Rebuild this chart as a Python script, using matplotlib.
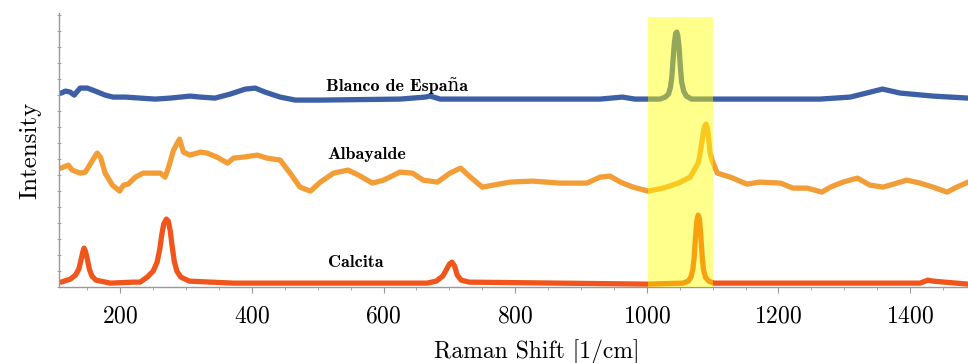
import matplotlib
matplotlib.use("Agg")
import matplotlib.pyplot as plt
from matplotlib.ticker import MultipleLocator, NullFormatter

# Raman spectra (shift in 1/cm, intensity in arbitrary units)
blanco_x = [110, 117, 124, 130, 139, 150, 162, 177, 189, 208, 230, 253, 276, 291,
            306, 322, 344, 367, 390, 405, 420, 443, 466, 504, 625, 663, 671, 686,
            929, 963, 982, 1020, 1028, 1033, 1036, 1038, 1040, 1042, 1044, 1045.5,
            1047, 1049, 1051, 1053, 1056, 1060, 1068, 1263, 1309, 1358, 1385, 1435,
            1488]
blanco_y = [194, 196, 195, 192, 199, 199, 196, 192, 190, 190, 189, 188, 189, 190,
            191, 190, 189, 193, 198, 199, 195, 190, 187, 187, 188, 190, 191, 188,
            188, 190, 188, 188, 190, 193, 200, 210, 228, 245, 254, 255,
            252, 240, 220, 205, 196, 191, 188, 188, 190, 198, 194, 191,
            189]

albayalde_x = [110, 121, 127, 139, 147, 158, 165, 170, 177, 188, 199, 205, 212, 223,
               235, 250, 261, 268, 273, 281, 290, 296, 306, 322, 332, 347, 363, 372,
               387, 408, 423, 443, 458, 473, 489, 504, 524, 546, 562, 583, 600, 625,
               644, 660, 682, 701, 717, 732, 750, 767, 792, 827, 868, 909, 929, 944,
               960, 979, 1002, 1025, 1048, 1066, 1078, 1080, 1083, 1086, 1088, 1090,
               1092, 1094, 1096, 1099, 1107, 1127, 1152, 1172, 1203, 1222, 1244, 1266,
               1279, 1298, 1320, 1339, 1359, 1380, 1395, 1415, 1435, 1456, 1471, 1488]
albayalde_y = [119, 122, 117, 114, 115, 127, 134, 130, 114, 102, 96, 102, 103, 110,
               114, 114, 114, 110, 119, 137, 148, 135, 132, 135, 134, 130, 124, 129,
               130, 132, 129, 127, 114, 100, 96, 105, 114, 117, 112, 104, 107, 115,
               114, 107, 105, 114, 119, 110, 100, 102, 105, 106, 104, 104, 110, 111,
               105, 100, 96, 99, 104, 110, 124, 130, 142, 155, 161, 163,
               159, 148, 135, 127, 114, 110, 103, 105, 104, 99, 99, 95,
               100, 105, 109, 102, 100, 104, 107, 104, 100, 95, 100, 105]

calcita_x = [110, 124, 132, 137, 140, 143, 145, 147, 150, 153, 157, 163, 185, 220,
             230, 241, 250, 256, 260, 263, 266, 270, 273, 276, 279, 282, 286, 292,
             305, 372, 666, 680, 690, 696, 700, 704, 708, 712, 718, 730, 1002, 1055,
             1063, 1067, 1070, 1072, 1074, 1076, 1078, 1080, 1082, 1084, 1086, 1089,
             1094, 1102, 1415, 1427, 1435, 1488]
calcita_y = [5, 8, 12, 18, 26, 35, 39, 36, 28, 18, 11, 7, 4, 5,
             5, 10, 16, 25, 38, 52, 63, 68, 66, 56, 40, 26, 16, 10,
             6, 4, 4, 6, 11, 18, 23, 25, 21, 12, 7, 5, 3, 4,
             6, 10, 18, 30, 50, 66, 72, 68, 52, 32, 18, 10,
             6, 4, 4, 7, 6, 3]

labels = ["Blanco de España", "Albayalde", "Calcita"]
label_pos = [(513, 202), (514, 133), (516, 25)]
highlight = (1002, 1101)

colors = ["#3d5fa6", "#f39d37", "#f2551c"]

plt.rcParams["axes.formatter.use_mathtext"] = True
serif = ["cmr10", "DejaVu Serif"]
serif_bold = ["cmb10", "DejaVu Serif"]

fig = plt.figure(figsize=(9.68, 3.63), dpi=100)
ax = fig.add_axes([0.061, 0.209, 0.939, 0.755])

for xs, ys, c in zip([blanco_x, albayalde_x, calcita_x],
                     [blanco_y, albayalde_y, calcita_y], colors):
    ax.plot(xs, ys, color=c, lw=3.8, solid_capstyle="round", solid_joinstyle="round")

ax.axvspan(highlight[0], highlight[1], ymin=0, ymax=0.985, color="#ffff00",
           alpha=0.45, lw=0, zorder=5)

for text, (tx, ty) in zip(labels, label_pos):
    ax.text(tx, ty, text, family=serif_bold, fontsize=13, va="center", ha="left")

ax.set_xlim(107, 1488)
ax.set_ylim(0, 274)

ax.xaxis.set_major_locator(MultipleLocator(200))
ax.xaxis.set_minor_locator(MultipleLocator(50))
ax.yaxis.set_major_locator(MultipleLocator(16))
ax.yaxis.set_major_formatter(NullFormatter())

for lab in ax.get_xticklabels():
    lab.set_family(serif)
ax.tick_params(axis="x", which="major", length=4, width=0.8, color="#999999",
               labelsize=17, pad=9)
ax.tick_params(axis="x", which="minor", length=2.5, width=0.6, color="#999999")
ax.tick_params(axis="y", which="major", length=2.5, width=0.6, color="#999999",
               direction="inout")

for side in ["top", "right"]:
    ax.spines[side].set_visible(False)
for side in ["left", "bottom"]:
    ax.spines[side].set_color("#999999")
    ax.spines[side].set_linewidth(1.0)

ax.set_xlabel("Raman Shift [1/cm]", family=serif, fontsize=17)
ax.xaxis.set_label_coords(0.526, -0.19)
ax.set_ylabel("Intensity", family=serif, fontsize=18, labelpad=8)

fig.savefig("out.png", dpi=100)
